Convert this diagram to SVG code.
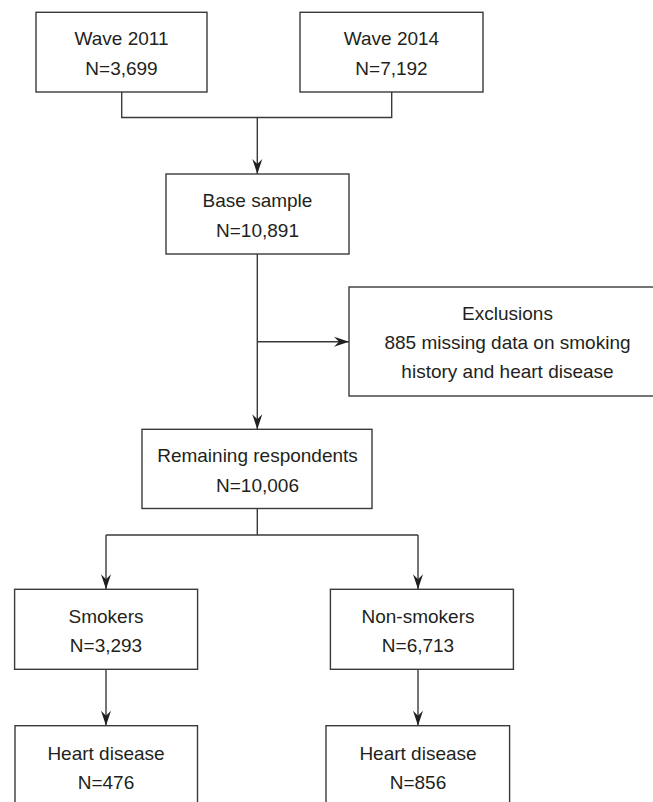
<svg xmlns="http://www.w3.org/2000/svg" width="653" height="802" viewBox="0 0 653 802">
<style>
.box{fill:#fff;stroke:#3a3a3a;stroke-width:1.4}
.t{font-family:"Liberation Sans",Arial,sans-serif;font-size:19px;fill:#231f20;text-anchor:middle}
.c{fill:none;stroke:#3a3a3a;stroke-width:1.4}
</style>
<defs>
<marker id="ah" markerUnits="userSpaceOnUse" markerWidth="16" markerHeight="12" refX="15" refY="5.5" orient="auto">
<path d="M0,0.5 L15,5.5 L0,10.5 L5,5.5 z" fill="#231f20"/>
</marker>
</defs>
<rect width="653" height="802" fill="#fff"/>
<g id="connectors">
<path class="c" d="M121.7,92 V117.5 H391.7 V92"/>
<path class="c" d="M257.3,117.5 V174" marker-end="url(#ah)"/>
<path class="c" d="M257.3,254 V429.3" marker-end="url(#ah)"/>
<path class="c" d="M257.3,341.7 H349" marker-end="url(#ah)"/>
<path class="c" d="M257.3,508.5 V535 M106,535 H418"/>
<path class="c" d="M106,535 V589.3" marker-end="url(#ah)"/>
<path class="c" d="M418,535 V589.3" marker-end="url(#ah)"/>
<path class="c" d="M106,669.3 V725.7" marker-end="url(#ah)"/>
<path class="c" d="M418,669.3 V725.7" marker-end="url(#ah)"/>
</g>
<g id="wave2011">
<rect class="box" x="36" y="12.3" width="171" height="79.7"/>
<text class="t" x="121.5" y="45">Wave 2011</text>
<text class="t" x="121.5" y="74.5">N=3,699</text>
</g>
<g id="wave2014">
<rect class="box" x="300" y="12.3" width="183" height="79.7"/>
<text class="t" x="391.5" y="45">Wave 2014</text>
<text class="t" x="391.5" y="74.5">N=7,192</text>
</g>
<g id="base">
<rect class="box" x="166" y="174" width="183" height="80"/>
<text class="t" x="257.5" y="207">Base sample</text>
<text class="t" x="257.5" y="236.5">N=10,891</text>
</g>
<g id="exclusions">
<rect class="box" x="349" y="287" width="320" height="109"/>
<text class="t" x="507.5" y="319.5">Exclusions</text>
<text class="t" x="507.5" y="348.5">885 missing data on smoking</text>
<text class="t" x="507.5" y="377.5">history and heart disease</text>
</g>
<g id="remaining">
<rect class="box" x="142" y="429.3" width="230" height="79.2"/>
<text class="t" x="257.5" y="462">Remaining respondents</text>
<text class="t" x="257.5" y="492">N=10,006</text>
</g>
<g id="smokers">
<rect class="box" x="14.6" y="589.3" width="183" height="80"/>
<text class="t" x="106" y="623">Smokers</text>
<text class="t" x="106" y="652">N=3,293</text>
</g>
<g id="nonsmokers">
<rect class="box" x="330.4" y="589.3" width="183" height="80"/>
<text class="t" x="418" y="623">Non-smokers</text>
<text class="t" x="418" y="652">N=6,713</text>
</g>
<g id="heart1">
<rect class="box" x="15" y="725.7" width="182.5" height="90"/>
<text class="t" x="106" y="759.5">Heart disease</text>
<text class="t" x="106" y="788.5">N=476</text>
</g>
<g id="heart2">
<rect class="box" x="326" y="725.7" width="183.6" height="90"/>
<text class="t" x="418" y="759.5">Heart disease</text>
<text class="t" x="418" y="788.5">N=856</text>
</g>
</svg>
